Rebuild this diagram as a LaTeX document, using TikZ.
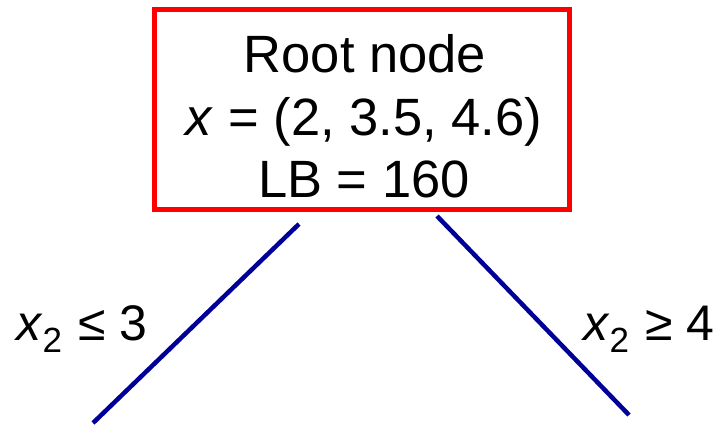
\documentclass[tikz,border=0pt]{standalone}
\usepackage{fontspec}
\setmainfont{Liberation Sans}
\definecolor{boxred}{RGB}{255,0,0}
\definecolor{navyline}{RGB}{0,0,153}
\newcommand{\bigtxt}{\fontsize{52.5}{62}\selectfont}
\newcommand{\lbltxt}{\fontsize{50}{60}\selectfont}
\newcommand{\subtwo}{\raisebox{-12pt}{\fontsize{35}{35}\selectfont 2}}
\tikzset{
  rootbox/.style={draw=boxred, line width=5pt, minimum width=415pt, minimum height=200pt, inner sep=0pt},
  txt/.style={anchor=base, inner sep=0pt, font=\bigtxt},
  branch/.style={draw=navyline, line width=4.5pt},
  lbl/.style={inner sep=0pt, font=\lbltxt}
}
\begin{document}
\begin{tikzpicture}[x=1pt, y=-1pt]
\useasboundingbox (0,0) rectangle (717,426);
\node[rootbox] (root) at (362,109.5) {};
\node[txt] (t1) at (365,72) {Root node};
\node[txt] (t2) at (364,135) {\textit{x} = (2, 3.5, 4.6)};
\node[txt] (t3) at (364,197) {LB = 160};
\coordinate (l1) at (299,224);
\coordinate (l2) at (93,423);
\coordinate (r1) at (437,216);
\coordinate (r2) at (629,415);
\draw[branch] (l1) -- (l2);
\draw[branch] (r1) -- (r2);
\node[lbl, anchor=base west] (lb1) at (16,340) {\textit{x}\subtwo\hspace{0.33em}≤ 3};
\node[lbl, anchor=base west] (lb2) at (583,340) {\textit{x}\subtwo\hspace{0.33em}≥ 4};
\end{tikzpicture}
\end{document}
